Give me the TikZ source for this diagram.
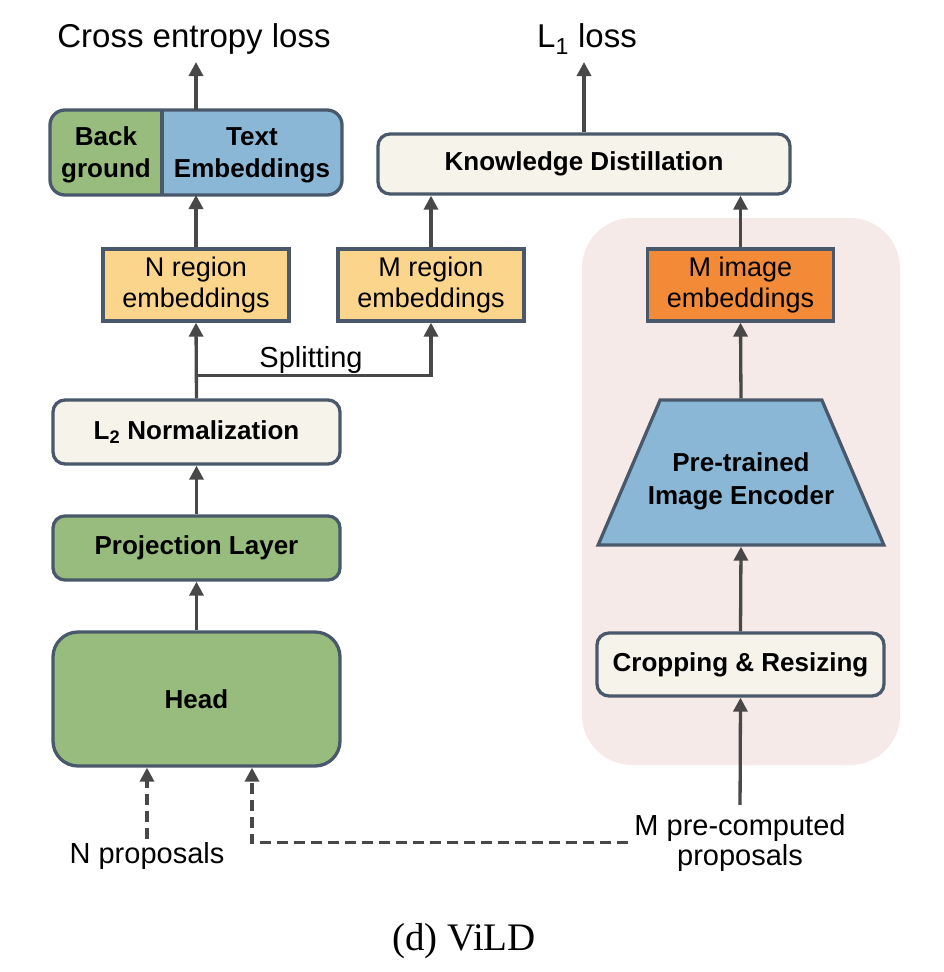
\documentclass[tikz,border=0pt]{standalone}
\usepackage{fontspec}
\setmainfont{Liberation Sans}
\newfontfamily\capfont{Liberation Serif}
\usetikzlibrary{arrows.meta,calc,shapes.geometric}

\definecolor{cgreen}{HTML}{97BC7D}
\definecolor{cblue}{HTML}{8BB7D7}
\definecolor{ccream}{HTML}{F6F3EA}
\definecolor{cyellow}{HTML}{FBD58C}
\definecolor{corange}{HTML}{F38A38}
\definecolor{cpink}{HTML}{F6EAE8}
\definecolor{cborder}{HTML}{4A586C}
\definecolor{carrow}{HTML}{484848}

\begin{document}
\begin{tikzpicture}[x=1pt,y=-1pt,
  box/.style={draw=cborder, line width=3.3pt, inner sep=0pt, align=center,
              font=\fontsize{26}{32}\selectfont\bfseries},
  rbox/.style={box, rounded corners=12pt},
  sqbox/.style={draw=cborder, line width=3.3pt, inner sep=0pt, align=center,
              font=\fontsize{27}{31}\selectfont, fill=cyellow,
              minimum width=186pt, minimum height=72pt},
  arr/.style={draw=carrow, line width=3.3pt, -{Triangle[width=14pt,length=14pt]}},
  darr/.style={arr, dash pattern=on 11pt off 6pt},
  lbl/.style={inner sep=0pt, outer sep=0pt, align=center},
  biglbl/.style={lbl, font=\fontsize{33}{38}\selectfont},
  smlbl/.style={lbl, font=\fontsize{29}{30}\selectfont},
  intxt/.style={lbl, font=\fontsize{26}{32}\selectfont\bfseries},
]
\useasboundingbox (0,0) rectangle (944,972);

% pink background region
\node[fill=cpink, rounded corners=50pt, minimum width=318pt, minimum height=547pt,
      inner sep=0pt] (pinkbg) at (741,491.5) {};

% top labels
\node[biglbl, anchor=base] (ce) at (194,47) {Cross entropy loss};
\node[biglbl, anchor=base] (l1) at (587,47) {L\textsubscript{1} loss};

% Background / Text embeddings box
\node[draw=cborder, line width=3.3pt, inner sep=0pt, outer sep=0pt, rounded corners=15pt,
      minimum width=292pt, minimum height=85pt, fill=cblue,
      path picture={
        \fill[cgreen] ([yshift=5pt]path picture bounding box.north west) rectangle
              ([xshift=112pt,yshift=-5pt]path picture bounding box.south west);
      }] (bt) at (196,152.5) {};
\draw[cborder, line width=3.3pt] ([xshift=112pt]bt.north west) -- ([xshift=112pt]bt.south west);
\node[intxt] (bg) at (106,155) {Back\\ground};
\node[intxt] (te) at (252,155) {Text\\Embeddings};

% knowledge distillation
\node[rbox, fill=ccream, minimum width=412pt, minimum height=60pt] (kd) at (584,164)
      {Knowledge Distillation};

% embeddings
\node[sqbox] (nreg) at (196,285) {N region\\embeddings};
\node[sqbox] (mreg) at (431,285) {M region\\embeddings};
\node[sqbox, fill=corange] (mimg) at (740.5,285) {M image\\embeddings};

% left column
\node[rbox, fill=ccream, minimum width=287pt, minimum height=64pt] (l2) at (196.5,432)
      {L\textsubscript{2} Normalization};
\node[rbox, fill=cgreen, minimum width=287pt, minimum height=64pt] (proj) at (196.5,548)
      {Projection Layer};
\node[rbox, fill=cgreen, rounded corners=25pt, minimum width=287pt, minimum height=134pt]
      (head) at (196.5,699) {Head};

% right column
\node[box, fill=cblue, trapezium, trapezium stretches=true,
      trapezium left angle=69.6, trapezium right angle=69.6,
      minimum width=286pt, minimum height=145pt, line join=miter] (enc) at (741,472.5)
      {\phantom{X}};
\node[intxt, font=\fontsize{26}{33}\selectfont\bfseries] (enctxt) at (741,481)
      {Pre-trained\\Image Encoder};
\node[rbox, fill=ccream, minimum width=287pt, minimum height=63pt] (crop) at (740.5,664.5)
      {Cropping \& Resizing};

% other labels
\node[smlbl, anchor=base] (spl) at (311,367) {Splitting};
\node[smlbl, anchor=base] (np) at (147,863) {N proposals};
\node[smlbl] (mp) at (740,842.5) {M pre-computed\\proposals};
\node[lbl, font=\capfont\fontsize{39}{40}\selectfont, anchor=base] (cap) at (464,950) {(d) ViLD};

% connectors
\draw[arr] (bt.north) -- ($(bt.north |- ce.base)+(0,15)$);
\draw[arr] (kd.north) -- ($(kd.north |- l1.base)+(0,15)$);
\draw[arr] (nreg.north) -- (nreg.north |- bt.south);
\draw[arr] (mreg.north) -- (mreg.north |- kd.south);
\draw[arr] (mimg.north) -- (mimg.north |- kd.south);
\coordinate (split) at ($(l2.north)+(0,-23)$);
\draw[arr] (l2.north) -- (nreg.south);
\draw[arr] (split) -| (mreg.south);
\draw[arr] (proj.north) -- (l2.south);
\draw[arr] (head.north) -- (proj.south);
\draw[arr] (enc.north) -- (mimg.south);
\draw[arr] (crop.north) -- (enc.south);
\draw[arr, shorten <=9pt] (mp.north) -- (crop.south);
\draw[darr, shorten <=3pt] (np.north) -- (np.north |- head.south);
\draw[darr, shorten <=6pt] (mp.west) -| ($(head.south)+(55.5,0)$);
\end{tikzpicture}
\end{document}
